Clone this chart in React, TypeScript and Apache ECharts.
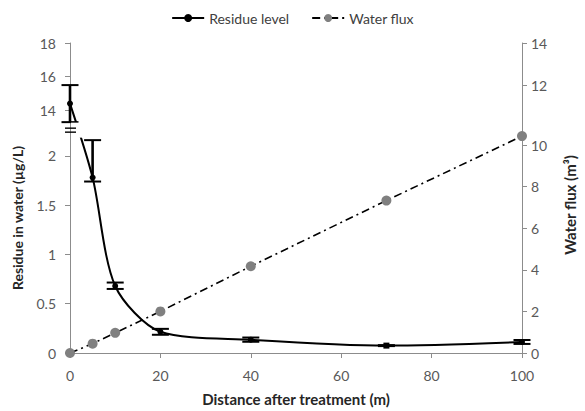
import React, { useEffect, useRef } from "react";
import * as echarts from "echarts";

// ---- data ----
const distances = [0, 5, 10, 20, 40, 70, 100];
const residueMean = [14.4, 1.78, 0.68, 0.215, 0.135, 0.075, 0.112];
const residueLow = [13.3, 1.74, 0.65, 0.185, 0.114, 0.07, 0.092];
const residueHigh = [15.5, 2.16, 0.715, 0.245, 0.157, 0.08, 0.132];
const waterFlux = [0, 0.45, 0.97, 2.0, 4.17, 7.33, 10.3];

const xTicks = [0, 20, 40, 60, 80, 100];
const leftTickLabels = [0, 0.5, 1, 1.5, 2, 14, 16, 18];
const rightTickLabels = [0, 2, 4, 6, 8, 10, 12, 14];

// ---- axis scale definitions (value -> position on a 0..AXIS_SPAN axis) ----
const AXIS_SPAN = 313;
// broken left axis: two segments
const leftSegments = [
  { from: 0, to: 2, p0: 0, p1: 199 },
  { from: 14, to: 18, p0: 245, p1: 313 },
];
const leftBreakPos = 225;
// non-uniform right axis knots
const rightKnotValues = [0, 10, 12, 14];
const rightKnotPos = [0, 210, 270, 313];

function tLeft(v: number): number {
  const seg = v <= (leftSegments[0].to + leftSegments[1].from) / 2 ? leftSegments[0] : leftSegments[1];
  return seg.p0 + ((v - seg.from) * (seg.p1 - seg.p0)) / (seg.to - seg.from);
}
function tRight(v: number): number {
  for (let i = 0; i < rightKnotValues.length - 1; i++) {
    const a = rightKnotValues[i], b = rightKnotValues[i + 1];
    if (v <= b || i === rightKnotValues.length - 2) {
      return rightKnotPos[i] + ((v - a) * (rightKnotPos[i + 1] - rightKnotPos[i])) / (b - a);
    }
  }
  return 0;
}
function labelFor(pos: number, ticks: number[], f: (v: number) => number): string {
  let best = ticks[0];
  let d = Infinity;
  for (const t of ticks) {
    const dd = Math.abs(f(t) - pos);
    if (dd < d) { d = dd; best = t; }
  }
  return String(best);
}

const FONT = "Lato";
const AXIS_COLOR = "#8c8c8c";
const LABEL_COLOR = "#595959";
const TITLE_COLOR = "#262626";

export default function App() {
  const ref = useRef<HTMLDivElement>(null);
  useEffect(() => {
    if (!ref.current) return;
    const chart = echarts.init(ref.current, undefined, { renderer: "svg" });
    const option: any = {
      animation: false,
      backgroundColor: "#ffffff",
      textStyle: { fontFamily: FONT },
      legend: {
        top: 6,
        left: "center",
        itemGap: 22,
        itemWidth: 32,
        itemHeight: 10,
        textStyle: { fontFamily: FONT, fontSize: 14, color: "#404040" },
        data: ["Residue level", "Water flux"],
      },
      grid: { left: 70, right: 61, top: 43, bottom: 55, containLabel: false },
      xAxis: {
        type: "value",
        min: 0,
        max: 100,
        interval: 20,
        name: "Distance after treatment (m)",
        nameLocation: "middle",
        nameGap: 38,
        nameTextStyle: { fontFamily: FONT, fontSize: 15, fontWeight: "bold", color: TITLE_COLOR },
        axisLine: { show: true, lineStyle: { color: AXIS_COLOR, width: 1 } },
        axisTick: { show: true, length: 5, lineStyle: { color: AXIS_COLOR } },
        axisLabel: { fontFamily: FONT, fontSize: 14, color: LABEL_COLOR, margin: 15, customValues: xTicks },
        splitLine: { show: false },
      },
      yAxis: [
        {
          type: "value",
          min: 0,
          max: AXIS_SPAN,
          position: "left",
          name: "Residue in water (µg/L)",
          nameLocation: "middle",
          nameRotate: 90,
          nameGap: 46,
          nameTextStyle: {
            fontFamily: FONT, fontSize: 14, fontWeight: "bold", color: TITLE_COLOR,
            padding: [0, 40, 0, 0],
          },
          axisLine: { show: true, lineStyle: { color: AXIS_COLOR, width: 1 } },
          axisTick: { show: true, length: 5, lineStyle: { color: AXIS_COLOR }, customValues: leftTickLabels.map(tLeft) },
          axisLabel: {
            fontFamily: FONT,
            fontSize: 14,
            color: LABEL_COLOR,
            margin: 14,
            customValues: leftTickLabels.map(tLeft),
            formatter: (v: number) => labelFor(v, leftTickLabels, tLeft),
          },
          splitLine: { show: false },
        },
        {
          type: "value",
          min: 0,
          max: AXIS_SPAN,
          position: "right",
          name: "Water flux (m³)",
          nameLocation: "middle",
          nameRotate: 90,
          nameGap: 40,
          nameTextStyle: {
            fontFamily: FONT, fontSize: 15, fontWeight: "bold", color: TITLE_COLOR,
            padding: [0, 14, 0, 0],
          },
          axisLine: { show: true, lineStyle: { color: AXIS_COLOR, width: 1 } },
          axisTick: { show: true, length: 5, lineStyle: { color: AXIS_COLOR }, customValues: rightTickLabels.map(tRight) },
          axisLabel: {
            fontFamily: FONT,
            fontSize: 14,
            color: LABEL_COLOR,
            margin: 9,
            customValues: rightTickLabels.map(tRight),
            formatter: (v: number) => labelFor(v, rightTickLabels, tRight),
          },
          splitLine: { show: false },
        },
      ],
      series: [
        {
          name: "Water flux",
          type: "line",
          yAxisIndex: 1,
          data: distances.map((d, i) => [d, tRight(waterFlux[i])]),
          symbol: "circle",
          symbolSize: 10,
          itemStyle: { color: "#808080" },
          lineStyle: { color: "#000000", width: 1.6, type: [8, 4, 2, 4] },
          z: 2,
        },
        {
          name: "Residue level",
          type: "line",
          yAxisIndex: 0,
          smooth: 0.28,
          symbol: "circle",
          data: distances.map((d, i) => ({
            value: [d, tLeft(residueMean[i])],
            symbol: d === 70 ? "rect" : "circle",
          })),
          symbolSize: 6,
          itemStyle: { color: "#000000" },
          lineStyle: { color: "#000000", width: 2 },
          z: 3,
        },
        {
          name: "errorbars",
          type: "custom",
          yAxisIndex: 0,
          data: distances.map((d, i) => [d, tLeft(residueLow[i]), tLeft(residueHigh[i])]),
          renderItem: (params: any, api: any) => {
            const x = api.value(0);
            const lo = api.coord([x, api.value(1)]);
            const hi = api.coord([x, api.value(2)]);
            const half = 8.5;
            const style = { stroke: "#000000", lineWidth: 2 };
            return {
              type: "group",
              children: [
                { type: "line", shape: { x1: lo[0], y1: lo[1], x2: hi[0], y2: hi[1] }, style: { ...style, lineWidth: 2.6 } },
                { type: "line", shape: { x1: lo[0] - half, y1: lo[1], x2: lo[0] + half, y2: lo[1] }, style },
                { type: "line", shape: { x1: hi[0] - half, y1: hi[1], x2: hi[0] + half, y2: hi[1] }, style },
              ],
            };
          },
          z: 4,
        },
        {
          name: "axisbreak",
          type: "custom",
          yAxisIndex: 0,
          data: [[0, leftBreakPos]],
          renderItem: (params: any, api: any) => {
            const p = api.coord([api.value(0), api.value(1)]);
            const style = { stroke: "#000000", lineWidth: 1.4 };
            return {
              type: "group",
              children: [
                { type: "rect", shape: { x: p[0] + 1, y: p[1] - 7.5, width: 22, height: 15 }, style: { fill: "#ffffff" } },
                { type: "line", shape: { x1: p[0] - 5, y1: p[1] - 2, x2: p[0] + 6, y2: p[1] - 2 }, style },
                { type: "line", shape: { x1: p[0] - 5, y1: p[1] + 2, x2: p[0] + 6, y2: p[1] + 2 }, style },
              ],
            };
          },
          z: 6,
        },
      ],
    };
    chart.setOption(option);
    return () => chart.dispose();
  }, []);
  return (
    <div
      ref={ref}
      style={{ position: "fixed", left: 0, top: 0, width: 585, height: 411 }}
    />
  );
}
